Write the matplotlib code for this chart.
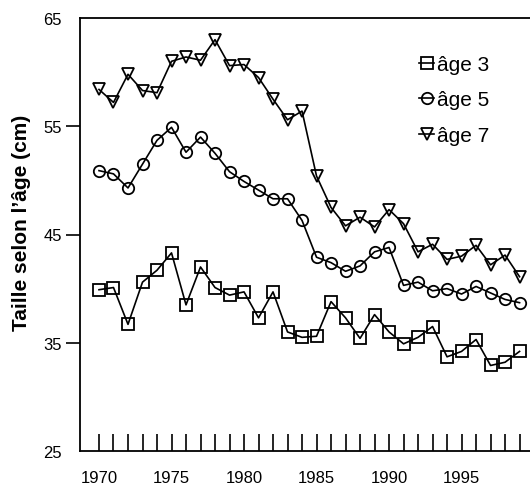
import matplotlib
matplotlib.use("Agg")
import matplotlib.pyplot as plt
from matplotlib.legend_handler import HandlerTuple

plt.rcParams['font.family'] = ['Liberation Sans', 'DejaVu Sans']

years = list(range(1970, 2000))
age3 = [39.9, 40.1, 36.7, 40.6, 41.7, 43.3, 38.5, 42.0, 40.1, 39.4,
        39.7, 37.3, 39.7, 36.0, 35.5, 35.6, 38.8, 37.3, 35.4, 37.6,
        36.0, 34.9, 35.5, 36.5, 33.7, 34.2, 35.3, 32.9, 33.2, 34.2]
age5 = [50.9, 50.6, 49.3, 51.5, 53.7, 54.9, 52.6, 54.0, 52.5, 50.8,
        49.9, 49.1, 48.3, 48.3, 46.3, 42.9, 42.4, 41.6, 42.1, 43.4,
        43.8, 40.3, 40.6, 39.8, 40.0, 39.5, 40.2, 39.6, 39.0, 38.7]
age7 = [58.4, 57.2, 59.8, 58.3, 58.1, 61.0, 61.4, 61.1, 63.0, 60.6,
        60.7, 59.5, 57.5, 55.6, 56.4, 50.4, 47.5, 45.8, 46.6, 45.7,
        47.3, 46.0, 43.4, 44.1, 42.7, 43.0, 44.0, 42.2, 43.1, 41.1]
labels = ['âge 3', 'âge 5', 'âge 7']
markers = ['s', 'o', 'v']
msizes = [8.6, 8.2, 9.2]
yticks = [25, 35, 45, 55, 65]
xticklabels = [1970, 1975, 1980, 1985, 1990, 1995]

fig = plt.figure(figsize=(5.3, 4.85), dpi=100)
ax = fig.add_axes([80/530, 1 - 452/485, 1 - 80/530, (452 - 19)/485])

handles = []
for vals, lab, m, ms in zip([age3, age5, age7], labels, markers, msizes):
    mk, = ax.plot(years, vals, linestyle='none', marker=m, ms=ms,
                  mfc='white', mec='black', mew=1.3, zorder=2)
    ln, = ax.plot(years, vals, color='black', lw=1.2, zorder=3)
    handles.append((mk, ln))

ax.set_xlim(1968.69, 1999.72)
ax.set_ylim(25, 65)
ax.set_yticks(yticks)
ax.set_xticks(years)
ax.set_xticklabels([str(y) if y in xticklabels else '' for y in years])
ax.tick_params(axis='x', direction='in', length=12, width=1.2, labelsize=12, pad=14)
ax.tick_params(axis='y', direction='out', length=10, width=1.2, labelsize=12, pad=3)
yt = ax.yaxis.get_major_ticks()
yt[0].tick1line.set_visible(False)
yt[-1].tick1line.set_visible(False)
for s in ['left', 'bottom', 'top']:
    ax.spines[s].set_linewidth(1.3)
ax.spines['right'].set_visible(False)

ax.set_ylabel('Taille selon l\u2019âge (cm)', fontsize=15, fontweight='bold')
ax.yaxis.set_label_coords(-49/450, 0.53)

ax.legend(handles, labels, loc='upper left', bbox_to_anchor=(0.754, 0.915),
          frameon=False, fontsize=15, handlelength=0.7, handletextpad=0.15,
          labelspacing=0.8, borderaxespad=0, borderpad=0,
          handler_map={tuple: HandlerTuple(ndivide=1)})

fig.savefig('out.png', dpi=100)
